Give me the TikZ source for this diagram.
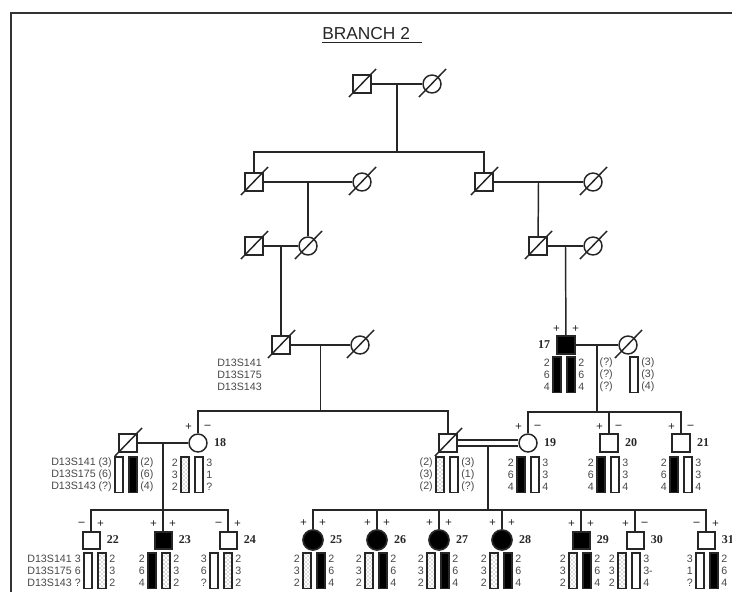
\documentclass[tikz,border=0pt]{standalone}
\usepackage{fontspec}
\setmainfont{Liberation Serif}
\setsansfont{Liberation Sans}
\usetikzlibrary{calc,patterns}
\colorlet{ink}{black!85}
\colorlet{allelegray}{black!72}
\tikzset{
  male/.style={draw=ink, rectangle, minimum size=13.5pt, inner sep=0pt, line width=1.1pt},
  female/.style={draw=ink, circle, minimum size=13.5pt, inner sep=0pt, line width=1.1pt},
  kidmale/.style={male, minimum size=12.75pt, line width=1.5pt},
  kidfemale/.style={female, minimum size=15pt, line width=1.3pt},
  affected/.style={fill=black},
  line/.style={draw=ink, line width=1.1pt},
  slash/.style={draw=ink, line width=1.1pt},
  sign/.style={font=\rmfamily\bfseries\small, inner sep=0pt, text=ink},
  idlabel/.style={font=\rmfamily\bfseries\small, inner sep=0pt, anchor=west, text=ink},
  allele/.style={font=\sffamily\fontsize{8}{9}\selectfont, inner sep=0pt, text=allelegray},
  marker/.style={allele, anchor=west},
  hwhite/.style={draw=ink, fill=white, line width=0.8pt},
  hblack/.style={draw=ink, fill=black, line width=0.8pt},
  hdot/.style={draw=ink, pattern=crosshatch dots, pattern color=black!60, line width=0.8pt},
  hnone/.style={draw=none}
}
\newcommand{\Pa}[1]{(#1)}
\newcommand{\Dead}[1]{%
  \draw[slash] ($(#1.center)+(-13,13)$) -- ($(#1.center)+(14,-15)$);
}
\newcommand{\Signs}[3]{%
  \node[sign] (#1a) at ($(#1.north)+(-9.5,-6.5)$) {#2};
  \node[sign] (#1b) at ($(#1.north)+(9.5,-6.5)$) {#3};
}
% #1 name, #2 x, #3 first row, #4 left bar, #5 right bar, #6 alleles left/right
\newcommand{\Haplo}[6]{%
  \draw[#4] (#2-11,#3-6) rectangle (#2-3,#3+29.5);
  \draw[#5] (#2+3,#3-6) rectangle (#2+11,#3+29.5);
  \foreach \l/\r [count=\i] in {#6} {
    \node[allele, anchor=east] (#1l\i) at (#2-14,#3+\i*11.7-11.7) {\l};
    \node[allele, anchor=west] (#1r\i) at (#2+14,#3+\i*11.7-11.7) {\r};
  }
}

\begin{document}
\begin{tikzpicture}[x=0.75pt,y=-0.75pt]
  \useasboundingbox (0,0) rectangle (732,592);
  \draw[draw=black!80, line width=2pt] (11,592) -- (11,13) -- (732,13);
  \node[font=\sffamily\fontsize{13}{15}\selectfont, anchor=base west, inner sep=0pt, text=ink] (title) at (322,40) {\underline{BRANCH 2\hspace{9pt}}};

  % generation I to III
  \node[male] (i1) at (362,84) {};
  \node[female] (i2) at (432,84) {};
  \node[male] (ii1) at (254,182) {};
  \node[female] (ii2) at (362,182) {};
  \node[male] (ii3) at (484,182) {};
  \node[female] (ii4) at (593,182) {};
  \node[male] (iii1) at (254,246) {};
  \node[female] (iii2) at (308,246) {};
  \node[male] (iii3) at (538,246) {};
  \node[female] (iii4) at (593,246) {};

  % generation IV
  \node[male] (iv1) at (281,345) {};
  \node[female] (iv2) at (360,345) {};
  \node[male, affected] (p17) at (566,345) {};
  \node[female] (iv4) at (628,345) {};

  % generation V
  \node[male] (v1) at (128,443) {};
  \node[female] (p18) at (198,443) {};
  \node[male] (v2) at (448,443) {};
  \node[female] (p19) at (528,443) {};
  \node[male] (p20) at (609,443) {};
  \node[male] (p21) at (681,443) {};

  % generation VI
  \node[kidmale] (p22) at (91,540) {};
  \node[kidmale, affected] (p23) at (163,540) {};
  \node[kidmale] (p24) at (228,540) {};
  \node[kidfemale, affected] (p25) at (313,540) {};
  \node[kidfemale, affected] (p26) at (377,540) {};
  \node[kidfemale, affected] (p27) at (439,540) {};
  \node[kidfemale, affected] (p28) at (502,540) {};
  \node[kidmale, affected] (p29) at (581,540) {};
  \node[kidmale] (p30) at (635,540) {};
  \node[kidmale] (p31) at (706,540) {};

  \foreach \d in {i1,i2,ii1,ii2,ii3,ii4,iii1,iii2,iii3,iii4,iv1,iv2,iv4,v1,v2}
    {\Dead{\d}}

  % couples and lines of descent
  \draw[line] (i1) -- (i2);
  \coordinate (m1) at ($(i1)!0.5!(i2)$);
  \coordinate (s1) at ($(m1)+(0,68)$);
  \draw[line] (m1) -- (s1);
  \draw[line] (ii1.north) |- (s1) -| (ii3.north);

  \draw[line] (ii1) -- (ii2);
  \coordinate (m2) at ($(ii1)!0.5!(ii2)$);
  \draw[line] (m2) -- (iii2);
  \draw[line] (ii3) -- (ii4);
  \coordinate (m3) at ($(ii3)!0.5!(ii4)$);
  \draw[line] (m3) -- (iii3);

  \draw[line] (iii1) -- (iii2);
  \coordinate (m4) at ($(iii1)!0.5!(iii2)$);
  \draw[line] (m4) -- (iv1);
  \draw[line] (iii3) -- (iii4);
  \coordinate (m5) at ($(iii3)!0.5!(iii4)$);
  \draw[line] (m5) -- (p17);

  \draw[line] (iv1) -- (iv2);
  \coordinate (m6) at ($(iv1)!0.5!(iv2)$);
  \coordinate (s6) at ($(m6)+(0,66)$);
  \draw[line] (m6) -- (s6);
  \draw[line] (p18.north) |- (s6) -| (v2.north);

  \draw[line] (p17) -- (iv4);
  \coordinate (m7) at ($(p17)!0.5!(iv4)$);
  \coordinate (s7) at ($(m7)+(0,67)$);
  \draw[line] (m7) -- (s7);
  \draw[line] (p19.north) |- (s7) -| (p21.north);
  \draw[line] (p20.north) -- (p20.north |- s7);

  \draw[line] (v1) -- (p18);
  \coordinate (m8) at ($(v1)!0.5!(p18)$);
  \coordinate (s8) at ($(m8)+(0,67)$);
  \draw[line] (m8) -- (p23);
  \draw[line] (p22.north) |- (s8) -| (p24.north);

  \draw[line, double=white, double distance=3.5pt] (v2) -- (p19);
  \coordinate (m9) at ($(v2)!0.5!(p19)$);
  \coordinate (s9) at ($(m9)+(0,67)$);
  \draw[line] ($(m9)+(0,3)$) -- (s9);
  \draw[line] (p25.north) |- (s9) -| (p31.north);
  \foreach \k in {26,...,30}
    \draw[line] (p\k.north) -- (p\k.north |- s9);

  % marker signs and numbers
  \Signs{p17}{+}{+}
  \Signs{p18}{+}{\textendash}
  \Signs{p19}{+}{\textendash}
  \Signs{p20}{+}{\textendash}
  \Signs{p21}{+}{\textendash}
  \Signs{p22}{\textendash}{+}
  \Signs{p23}{+}{+}
  \Signs{p24}{\textendash}{+}
  \foreach \k in {25,...,29}
    {\Signs{p\k}{+}{+}}
  \Signs{p30}{+}{\textendash}
  \Signs{p31}{\textendash}{+}

  \node[idlabel, anchor=east] (l17) at ($(p17.west)+(-6,0)$) {17};
  \foreach \k in {18,...,31}
    \node[idlabel] (l\k) at ($(p\k.east)+(6,0)$) {\k};

  % haplotypes
  \node[marker] (mk1) at (217,363) {D13S141};
  \node[marker] (mk2) at (217,374.7) {D13S175};
  \node[marker] (mk3) at (217,386.4) {D13S143};
  \Haplo{h17}{564}{363}{hblack}{hblack}{2/2,6/6,4/4}
  \Haplo{hw}{627}{363}{hnone}{hwhite}{\Pa{?}/\Pa{3},\Pa{?}/\Pa{3},\Pa{?}/\Pa{4}}

  \Haplo{hv1}{126}{463}{hwhite}{hblack}{D13S141 \Pa{3}/\Pa{2},D13S175 \Pa{6}/\Pa{6},D13S143 \Pa{?}/\Pa{4}}
  \Haplo{h18}{192}{463}{hdot}{hwhite}{2/3,3/1,2/?}
  \Haplo{hv2}{447}{463}{hdot}{hwhite}{\Pa{2}/\Pa{3},\Pa{3}/\Pa{1},\Pa{2}/\Pa{?}}
  \Haplo{h19}{528}{463}{hblack}{hwhite}{2/3,6/3,4/4}
  \Haplo{h20}{608}{463}{hblack}{hwhite}{2/3,6/3,4/4}
  \Haplo{h21}{681}{463}{hblack}{hwhite}{2/3,6/3,4/4}

  \Haplo{h22}{95}{559}{hwhite}{hdot}{D13S141 3/2,D13S175 6/3,D13S143 ?/2}
  \Haplo{h23}{159}{559}{hblack}{hdot}{2/2,6/3,4/2}
  \Haplo{h24}{221}{559}{hwhite}{hdot}{3/2,6/3,?/2}
  \Haplo{h25}{314}{559}{hdot}{hblack}{2/2,3/6,2/4}
  \Haplo{h26}{376}{559}{hdot}{hblack}{2/2,3/6,2/4}
  \Haplo{h27}{438}{559}{hdot}{hblack}{2/2,3/6,2/4}
  \Haplo{h28}{501}{559}{hdot}{hblack}{2/2,3/6,2/4}
  \Haplo{h29}{580}{559}{hdot}{hblack}{2/2,3/6,2/4}
  \Haplo{h30}{629}{559}{hdot}{hwhite}{2/3,3/3-,2/4}
  \Haplo{h31}{707}{559}{hwhite}{hblack}{3/2,1/6,?/4}
\end{tikzpicture}
\end{document}
